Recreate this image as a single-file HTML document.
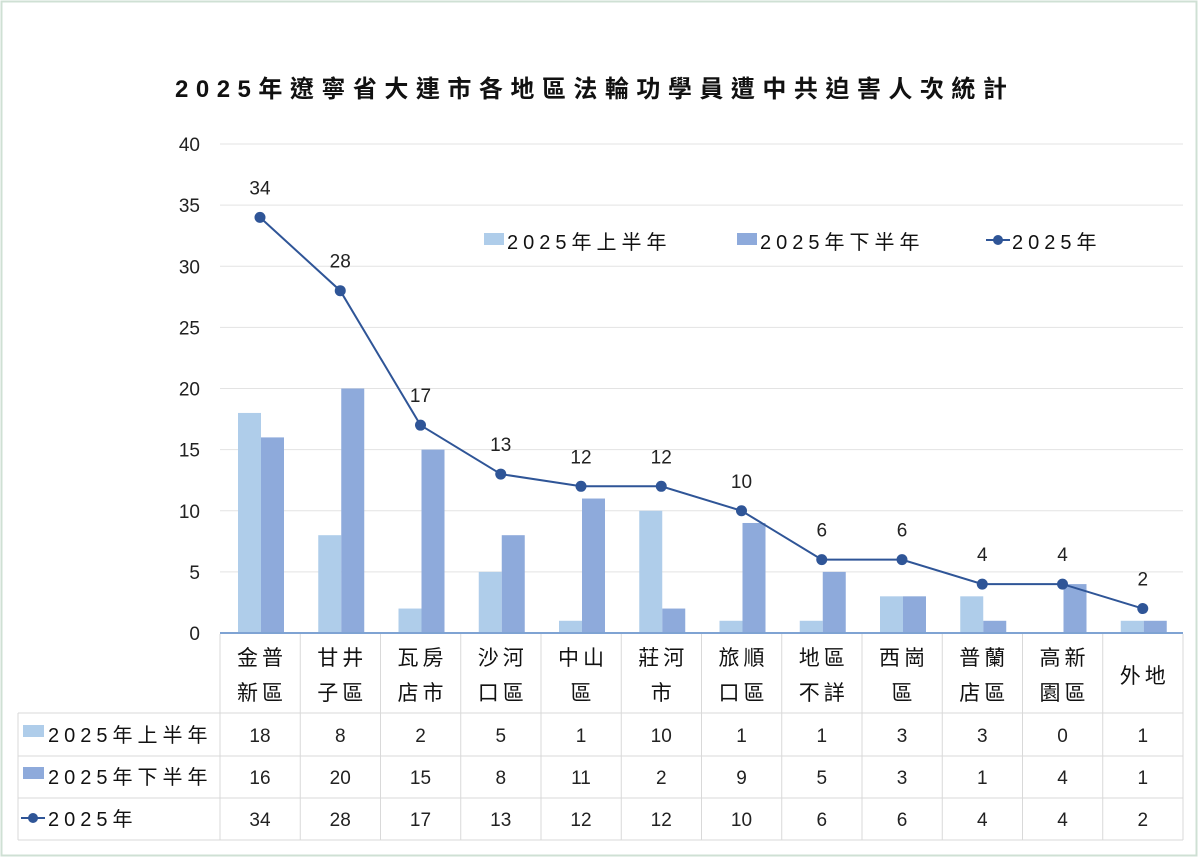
<!DOCTYPE html>
<html><head><meta charset="utf-8"><style>
body{margin:0;background:#fff;}
svg{display:block;font-family:"Liberation Sans","Noto Sans CJK TC",sans-serif;}
</style></head><body>
<svg id="s" width="1200" height="859" xmlns="http://www.w3.org/2000/svg"></svg>
<script>
const s=document.getElementById('s');
let h='';
h+='<rect x="1.5" y="1.5" width="1195" height="854" fill="#fff" stroke="#cfe0d4" stroke-width="2"/>';
h+='<text x="175" y="97" font-size="24" font-weight="bold" fill="#111" letter-spacing="7.5">2025年遼寧省大連市各地區法輪功學員遭中共迫害人次統計</text>';
const Y=v=>633-12.225*v;
for(let v=0;v<=40;v+=5){
 if(v>0)h+=`<line x1="220" x2="1183" y1="${Y(v)}" y2="${Y(v)}" stroke="#e3e3e3" stroke-width="1"/>`;
 h+=`<text x="200" y="${Y(v)+7}" font-size="19" text-anchor="end" fill="#222">${v}</text>`;
}
const cats=[["金普","新區"],["甘井","子區"],["瓦房","店市"],["沙河","口區"],["中山","區"],["莊河","市"],["旅順","口區"],["地區","不詳"],["西崗","區"],["普蘭","店區"],["高新","園區"],["外地"]];
const a=[18,8,2,5,1,10,1,1,3,3,0,1],b=[16,20,15,8,11,2,9,5,3,1,4,1],t=[34,28,17,13,12,12,10,6,6,4,4,2];
const W=80.25;
let pts=[];
for(let i=0;i<12;i++){
 const x0=220+i*W;
 h+=`<rect x="${x0+18}" y="${Y(a[i])}" width="23" height="${633-Y(a[i])}" fill="#afcdea"/>`;
 h+=`<rect x="${x0+41}" y="${Y(b[i])}" width="23" height="${633-Y(b[i])}" fill="#8eaadb"/>`;
 pts.push([x0+40,Y(t[i])]);
}
h+=`<polyline points="${pts.map(p=>p.join(',')).join(' ')}" fill="none" stroke="#2f5597" stroke-width="2"/>`;
pts.forEach((p,i)=>{h+=`<circle cx="${p[0]}" cy="${p[1]}" r="5.5" fill="#2f5597"/>`;
 h+=`<text x="${p[0]}" y="${p[1]-23}" font-size="19" text-anchor="middle" fill="#222">${t[i]}</text>`;});
h+='<line x1="220" x2="1183" y1="633" y2="633" stroke="#7fa3d3" stroke-width="2"/>';
const g='#d9d9d9';
[713,756,798,840].forEach(y=>h+=`<line x1="18" x2="1183" y1="${y}" y2="${y}" stroke="${g}"/>`);
h+=`<line x1="18" x2="18" y1="713" y2="840" stroke="${g}"/>`;
for(let i=0;i<=12;i++){const x=220+i*W;h+=`<line x1="${x}" x2="${x}" y1="634" y2="840" stroke="${g}"/>`;}
for(let i=0;i<12;i++){const cx=220+i*W+40;const c=cats[i];
 if(c.length==2){h+=`<text x="${cx+2}" y="665" font-size="21" text-anchor="middle" fill="#111" letter-spacing="4">${c[0]}</text><text x="${cx+2}" y="700" font-size="21" text-anchor="middle" fill="#111" letter-spacing="4">${c[1]}</text>`;}
 else h+=`<text x="${cx+2}" y="683" font-size="21" text-anchor="middle" fill="#111" letter-spacing="4">${c[0]}</text>`;
 [[a,742],[b,784],[t,826]].forEach(([arr,y])=>h+=`<text x="${cx}" y="${y}" font-size="19" text-anchor="middle" fill="#222">${arr[i]}</text>`);
}
const ls='letter-spacing="5"';
h+=`<rect x="23" y="725" width="21" height="12" fill="#afcdea"/><text x="48" y="742" font-size="20" fill="#111" ${ls}>2025年上半年</text>`;
h+=`<rect x="23" y="767" width="21" height="12" fill="#8eaadb"/><text x="48" y="784" font-size="20" fill="#111" ${ls}>2025年下半年</text>`;
h+=`<line x1="21" x2="45" y1="818" y2="818" stroke="#2f5597" stroke-width="2"/><circle cx="33" cy="818" r="5" fill="#2f5597"/><text x="48" y="826" font-size="20" fill="#111" ${ls}>2025年</text>`;
h+=`<rect x="484" y="233" width="20" height="12" fill="#afcdea"/><text x="507" y="249" font-size="20" fill="#111" ${ls}>2025年上半年</text>`;
h+=`<rect x="737" y="233" width="20" height="12" fill="#8eaadb"/><text x="760" y="249" font-size="20" fill="#111" ${ls}>2025年下半年</text>`;
h+=`<line x1="986" x2="1010" y1="240" y2="240" stroke="#2f5597" stroke-width="2"/><circle cx="998" cy="240" r="5" fill="#2f5597"/><text x="1012" y="249" font-size="20" fill="#111" ${ls}>2025年</text>`;
s.innerHTML=h;
</script>
</body></html>
